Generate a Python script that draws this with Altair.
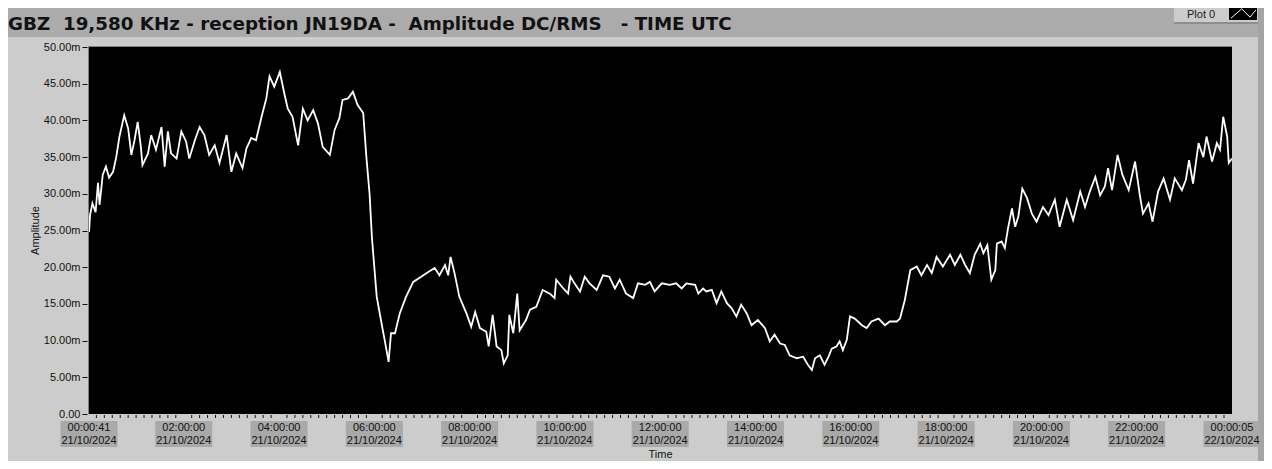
import altair as alt
import pandas as pd

TITLE = "GBZ\u00a0\u00a019,580 KHz - reception JN19DA -\u00a0\u00a0Amplitude DC/RMS\u00a0\u00a0\u00a0- TIME UTC"
Y_TITLE = "Amplitude"
X_TITLE = "Time"
LEGEND_LABEL = "Plot 0"

# minutes after 00:00:00 UTC 21/10/2024
TIME_MIN = [
    0.7, 2, 5, 9, 12, 14, 18, 22, 26, 31,
    35, 39, 45, 50, 54, 58, 62, 66, 68, 75,
    79, 85, 92, 96, 100, 104, 111, 117, 123, 127,
    134, 140, 146, 152, 159, 165, 174, 180, 186, 194,
    199, 205, 211, 218, 224, 228, 234, 241, 247, 251,
    257, 264, 270, 276, 283, 289, 295, 304, 310, 316,
    320, 327, 333, 339, 346, 350, 354, 357, 363, 369,
    373, 378, 381, 386, 392, 400, 409, 419, 426, 436,
    442, 449, 453, 456, 461, 467, 476, 482, 487, 493,
    501, 504, 509, 514, 520, 523, 528, 530, 535, 540,
    543, 551, 556, 564, 572, 581, 587, 589, 598, 604,
    607, 612, 619, 625, 631, 640, 648, 656, 663, 669,
    677, 686, 692, 701, 707, 713, 722, 732, 740, 747,
    753, 764, 768, 774, 778, 785, 791, 797, 804, 810,
    816, 822, 829, 835, 843, 852, 858, 864, 871, 877,
    883, 892, 900, 906, 911, 915, 921, 927, 932, 936,
    942, 946, 950, 955, 959, 965, 974, 980, 986, 995,
    1003, 1009, 1018, 1022, 1028, 1035, 1043, 1049, 1056, 1062,
    1068, 1076, 1085, 1091, 1098, 1104, 1110, 1116, 1123, 1127,
    1132, 1137, 1142, 1144, 1150, 1154, 1158, 1163, 1167, 1171,
    1176, 1182, 1188, 1194, 1202, 1209, 1217, 1223, 1232, 1240,
    1249, 1255, 1261, 1268, 1274, 1280, 1284, 1289, 1296, 1302,
    1310, 1318, 1324, 1328, 1335, 1340, 1347, 1354, 1362, 1368,
    1377, 1382, 1386, 1391, 1398, 1404, 1408, 1415, 1421, 1425,
    1429, 1434, 1436, 1440,
]

# amplitude in milli-units
AMPLITUDE_M = [
    24.8, 27.1, 28.7, 27.5, 31.5, 28.5, 32.6, 33.7, 32.2, 33.0,
    35.0, 37.8, 40.7, 38.9, 35.3, 37.3, 39.8, 36.4, 33.9, 35.5,
    38.0, 36.0, 39.1, 33.7, 38.5, 35.5, 34.8, 38.5, 37.1, 34.8,
    37.3, 39.1, 38.0, 35.3, 36.6, 34.2, 38.0, 33.0, 35.5, 33.5,
    36.2, 37.6, 37.3, 40.5, 43.0, 46.0, 44.6, 46.6, 43.5, 41.6,
    40.5, 36.6, 41.6, 40.0, 41.4, 39.6, 36.4, 35.3, 38.7, 40.3,
    42.8, 43.0, 43.9, 42.1, 41.0, 35.0, 30.0, 24.0, 16.0, 12.4,
    10.1, 7.1, 11.0, 11.0, 13.7, 16.0, 18.0, 18.7, 19.2, 19.9,
    18.9, 20.3, 18.9, 21.4, 19.2, 16.0, 13.7, 11.9, 13.9, 11.7,
    11.2, 9.2, 13.5, 9.2, 8.7, 6.9, 8.0, 13.5, 11.0, 16.4,
    11.4, 12.8, 14.2, 14.6, 16.9, 16.4, 15.8, 18.3, 17.1, 16.4,
    18.7, 17.8, 16.7, 18.7, 17.8, 16.9, 18.9, 18.7, 17.1, 18.3,
    16.4, 15.8, 17.8, 17.6, 18.0, 16.7, 17.8, 17.6, 17.8, 17.1,
    17.8, 17.6, 16.4, 17.1, 16.7, 16.9, 15.1, 16.7, 15.1, 14.4,
    13.3, 14.9, 13.7, 12.1, 12.8, 11.7, 9.9, 10.8, 9.6, 9.4,
    8.0, 7.6, 7.8, 6.7, 6.0, 7.6, 8.0, 6.7, 7.8, 8.9,
    9.2, 9.9, 8.7, 10.1, 13.3, 13.0, 12.1, 11.7, 12.6, 13.0,
    12.1, 12.6, 12.6, 13.0, 15.5, 19.6, 20.1, 18.9, 20.3, 19.2,
    21.4, 20.1, 21.7, 20.3, 21.7, 20.3, 19.2, 21.7, 23.2, 21.9,
    23.0, 18.3, 19.6, 23.2, 23.5, 22.6, 25.3, 28.0, 25.5, 26.9,
    30.7, 29.4, 27.3, 26.2, 28.2, 27.1, 29.2, 25.5, 29.2, 26.4,
    30.3, 28.2, 30.3, 32.3, 29.8, 31.0, 33.5, 30.5, 35.3, 32.6,
    30.5, 34.4, 29.8, 27.3, 28.7, 26.2, 30.3, 32.1, 29.2, 32.1,
    30.5, 31.9, 34.6, 31.4, 36.9, 35.0, 37.8, 34.4, 36.9, 36.0,
    40.5, 37.8, 34.2, 34.8,
]

X_DOMAIN = [0.683, 1440.083]
Y_DOMAIN = [0, 50]
Y_TICKS = [0, 5, 10, 15, 20, 25, 30, 35, 40, 45, 50]
X_TICK_MIN = [0.683, 120, 240, 360, 480, 600, 720, 840, 960, 1080, 1200, 1320, 1440.083]
X_TICK_TIME = ["00:00:41", "02:00:00", "04:00:00", "06:00:00", "08:00:00", "10:00:00",
               "12:00:00", "14:00:00", "16:00:00", "18:00:00", "20:00:00", "22:00:00",
               "00:00:05"]
X_TICK_DATE = ["21/10/2024"] * 12 + ["22/10/2024"]
MINOR_TICK_MIN = [m for m in range(10, 1440, 10) if m % 120 != 0]

W, H = 1143, 367
FONT = "Liberation Sans"

df = pd.DataFrame({"t": TIME_MIN, "v": AMPLITUDE_M})
ticks_df = pd.DataFrame({"t": X_TICK_MIN, "time": X_TICK_TIME, "date": X_TICK_DATE})
minor_df = pd.DataFrame({"t": MINOR_TICK_MIN})

xscale = alt.Scale(domain=X_DOMAIN, nice=False, zero=False)
yscale = alt.Scale(domain=Y_DOMAIN, nice=False, zero=False)
one = alt.Data(values=[{}])


def box(color, x, x2, y, y2):
    return alt.Chart(one).mark_rect(color=color).encode(
        x=alt.value(x), x2=alt.value(x2), y=alt.value(y), y2=alt.value(y2))


top_band = box("#ababab", -100, 1200, -60, -10)
right_strip1 = box("#a4a4a4", 1169, 1175, -60, 440)
right_strip2 = box("#8e8e8e", 1175, 1200, -60, 440)
legend_bg = box("#cccccc", 1085, 1169, -60, -25)
legend_shadow = box("#8e8e8e", 1085, 1169, -25, -23)
legend_swatch = box("black", 1140, 1168, -40, -27)

legend_text = alt.Chart(one).mark_text(
    align="left", baseline="middle", font=FONT, fontSize=11, color="#1a1a2a"
).encode(x=alt.value(1098), y=alt.value(-32), text=alt.value(LEGEND_LABEL))

legend_zig = alt.Chart(one).mark_point(
    shape="M-0.96,0.36L-0.14,-0.36L0.5,0.28L0.96,-0.28",
    size=676, filled=False, stroke="white", strokeWidth=1, opacity=1
).encode(x=alt.value(1154.5), y=alt.value(-33.5))

frame_top = alt.Chart(one).mark_rule(color="#808080", strokeWidth=1).encode(
    x=alt.value(-1), x2=alt.value(W), y=alt.value(-0.5))
frame_left = alt.Chart(one).mark_rule(color="#808080", strokeWidth=1).encode(
    x=alt.value(-0.5), y=alt.value(-1), y2=alt.value(H))

line = alt.Chart(df).mark_line(color="white", strokeWidth=1.8, clip=True).encode(
    x=alt.X("t:Q", scale=xscale,
            axis=alt.Axis(values=X_TICK_MIN, labels=False, tickSize=5, offset=1,
                          domain=False, grid=False, title=None, tickColor="#111")),
    y=alt.Y("v:Q", scale=yscale,
            axis=alt.Axis(values=Y_TICKS, tickSize=5, offset=2, domain=False, grid=False,
                          title=None, labelPadding=2, tickColor="#111",
                          labelExpr="datum.value == 0 ? '0.00' : format(datum.value, '.2f') + 'm'")),
)

minor = alt.Chart(minor_df).mark_rule(color="#111", strokeWidth=1).encode(
    x=alt.X("t:Q", scale=xscale, axis=None),
    y=alt.value(H + 1), y2=alt.value(H + 4))

label_boxes = alt.Chart(ticks_df).mark_point(
    shape="M-2.192,-1H2.192V1H-2.192Z", size=676, filled=True,
    color="#a9a9a9", opacity=1, strokeWidth=0
).encode(x=alt.X("t:Q", scale=xscale, axis=None), y=alt.value(387))

label_time = alt.Chart(ticks_df).mark_text(
    font=FONT, fontSize=11, color="#111", baseline="middle", align="center"
).encode(x=alt.X("t:Q", scale=xscale, axis=None), y=alt.value(381), text="time:N")

label_date = alt.Chart(ticks_df).mark_text(
    font=FONT, fontSize=11, color="#111", baseline="middle", align="center"
).encode(x=alt.X("t:Q", scale=xscale, axis=None), y=alt.value(394), text="date:N")

title = alt.Chart(one).mark_text(
    align="left", baseline="alphabetic", font="DejaVu Sans", fontWeight="bold",
    fontSize=18.3, color="#111"
).encode(x=alt.value(-81), y=alt.value(-17), text=alt.value(TITLE))

y_title = alt.Chart(one).mark_text(
    angle=270, align="center", baseline="middle", font=FONT, fontSize=11, color="#111"
).encode(x=alt.value(-53), y=alt.value(H / 2), text=alt.value(Y_TITLE))

x_title = alt.Chart(one).mark_text(
    align="center", baseline="middle", font=FONT, fontSize=11, color="#111"
).encode(x=alt.value(W / 2), y=alt.value(408), text=alt.value(X_TITLE))

chart = alt.layer(
    top_band, right_strip1, right_strip2, legend_bg, legend_shadow, legend_swatch,
    legend_text, legend_zig, frame_top, frame_left,
    line, minor, label_boxes, label_time, label_date, title, y_title, x_title,
).properties(
    width=W, height=H,
    autosize=alt.AutoSizeParams(type="none"),
    padding={"left": 81, "top": 39, "right": 32, "bottom": 47},
    background="#cccccc",
).configure_view(
    fill="black", stroke=None
).configure_axis(
    labelFont=FONT, labelFontSize=11, labelColor="#111"
)

chart.save("out.html", embed_options={"renderer": "svg", "actions": False})
